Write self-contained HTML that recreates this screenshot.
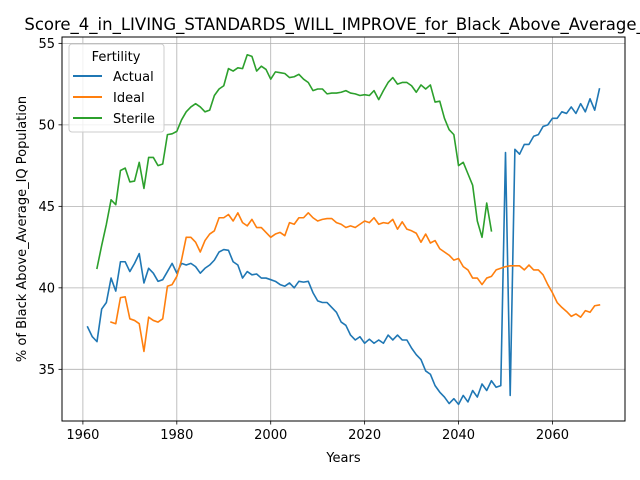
<!DOCTYPE html>
<html><head><meta charset="utf-8"><style>
html,body{margin:0;padding:0;background:#fff;overflow:hidden}
svg{display:block;font-family:"DejaVu Sans","Liberation Sans",sans-serif}
</style></head><body>
<svg id="chart" width="640" height="480" viewBox="0 0 640 480">
<rect x="0" y="0" width="640" height="480" fill="#fff"/>
<g id="grid"></g>
<g id="series"></g>
<rect x="62" y="37" width="563" height="384" fill="none" stroke="#000" stroke-width="1"/>
<g id="ticks"></g>
<text x="343.5" y="30" font-size="16.5" text-anchor="middle">Score_4_in_LIVING_STANDARDS_WILL_IMPROVE_for_Black_Above_Average_IQ</text>
<text x="343.5" y="462" font-size="13" text-anchor="middle">Years</text>
<text transform="translate(26,229) rotate(-90)" font-size="13" text-anchor="middle">% of Black Above_Average_IQ Population</text>
<g>
<rect x="69" y="44" width="95" height="88" rx="3" fill="#fff" fill-opacity="0.8" stroke="#ccc"/>
<text x="116" y="61" font-size="13" text-anchor="middle">Fertility</text>
<line x1="73" y1="76" x2="102" y2="76" stroke="#1f77b4" stroke-width="2"/>
<text x="113" y="81" font-size="13">Actual</text>
<line x1="73" y1="97" x2="102" y2="97" stroke="#ff7f0e" stroke-width="2"/>
<text x="113" y="102" font-size="13">Ideal</text>
<line x1="73" y1="118" x2="102" y2="118" stroke="#2ca02c" stroke-width="2"/>
<text x="113" y="123" font-size="13">Sterile</text>
</g>
</svg>
<script>
const actualStart = 1961;
const actualValues = [37.6,37.0,36.7,38.7,39.1,40.6,39.8,41.6,41.6,41.0,41.5,42.1,40.3,41.2,40.9,40.4,40.5,41.0,41.5,40.9,41.5,41.4,41.5,41.3,40.9,41.2,41.4,41.7,42.2,42.35,42.3,41.6,41.4,40.6,41.0,40.8,40.85,40.6,40.6,40.5,40.4,40.2,40.1,40.3,40.0,40.4,40.35,40.4,39.7,39.2,39.1,39.1,38.8,38.5,37.9,37.7,37.1,36.8,37.0,36.6,36.85,36.6,36.8,36.6,37.1,36.8,37.1,36.8,36.8,36.3,35.9,35.6,34.9,34.7,34.0,33.6,33.3,32.9,33.2,32.85,33.4,33.0,33.7,33.3,34.1,33.7,34.3,33.9,34.0,48.3,33.4,48.5,48.2,48.8,48.8,49.3,49.4,49.9,50.0,50.4,50.4,50.8,50.7,51.1,50.7,51.3,50.8,51.6,50.9,52.2];
const idealStart = 1966;
const idealValues = [37.9,37.8,39.4,39.45,38.1,38.0,37.8,36.1,38.2,38.0,37.9,38.1,40.1,40.2,40.7,41.7,43.1,43.1,42.8,42.2,42.9,43.3,43.5,44.3,44.3,44.5,44.1,44.6,44.0,43.8,44.2,43.7,43.7,43.4,43.1,43.3,43.4,43.2,44.0,43.9,44.3,44.3,44.6,44.3,44.1,44.2,44.25,44.25,44.0,43.9,43.7,43.8,43.7,43.9,44.1,44.0,44.3,43.9,44.0,43.95,44.2,43.6,44.05,43.6,43.5,43.35,42.8,43.3,42.75,42.9,42.4,42.2,42.0,41.7,41.8,41.3,41.1,40.6,40.6,40.2,40.6,40.7,41.1,41.2,41.3,41.35,41.35,41.35,41.1,41.4,41.1,41.1,40.8,40.2,39.7,39.1,38.8,38.55,38.25,38.4,38.2,38.6,38.5,38.9,38.95];
const sterileStart = 1963;
const sterileValues = [41.2,42.6,43.9,45.4,45.1,47.2,47.35,46.5,46.55,47.7,46.1,48.0,48.0,47.5,47.6,49.4,49.45,49.6,50.3,50.8,51.1,51.3,51.1,50.8,50.9,51.8,52.2,52.4,53.45,53.3,53.5,53.45,54.3,54.2,53.3,53.6,53.4,52.8,53.25,53.2,53.15,52.9,52.95,53.1,52.8,52.6,52.1,52.2,52.2,51.9,51.95,51.95,52.0,52.1,51.95,51.9,51.8,51.85,51.8,52.1,51.55,52.1,52.6,52.9,52.5,52.6,52.6,52.4,52.0,52.45,52.2,52.45,51.4,51.45,50.4,49.7,49.4,47.5,47.7,47.0,46.3,44.1,43.1,45.2,43.5];
const xTicks = [1960,1980,2000,2020,2040,2060];
const yTicks = [35,40,45,50,55];

const NS = "http://www.w3.org/2000/svg";
const L=62,R=625,T=37,B=421;
const xMin=1955.55,xMax=2075.45,yMin=31.83,yMax=55.39;
function xs(v){return L+(v-xMin)/(xMax-xMin)*(R-L);}
function ys(v){return B-(v-yMin)/(yMax-yMin)*(B-T);}
function mk(tag,attrs,parent){const e=document.createElementNS(NS,tag);for(const k in attrs)e.setAttribute(k,attrs[k]);parent.appendChild(e);return e;}
const grid=document.getElementById('grid'),ticks=document.getElementById('ticks'),series=document.getElementById('series');
xTicks.forEach(t=>{
  const x=xs(t);
  const g=mk('line',{x1:x,x2:x,y1:T,y2:B,stroke:'#b0b0b0','stroke-width':0.8},grid);
  
  
  const tk=mk('line',{x1:x,x2:x,y1:B,y2:B+3.5,stroke:'#000','stroke-width':0.8},ticks);
  
  
  const tx=mk('text',{x:x,y:B+18,'font-size':13,'text-anchor':'middle'},ticks);
  tx.textContent=t;
  
  
});
yTicks.forEach(t=>{
  const y=ys(t);
  const g=mk('line',{x1:L,x2:R,y1:y,y2:y,stroke:'#b0b0b0','stroke-width':0.8},grid);
  
  
  const tk=mk('line',{x1:L-3.5,x2:L,y1:y,y2:y,stroke:'#000','stroke-width':0.8},ticks);
  
  
  const tx=mk('text',{x:L-7,y:y+4.5,'font-size':13,'text-anchor':'end'},ticks);
  tx.textContent=t;
  
  
});
function drawLine(start,vals,color,name){
  const pts=vals.map((v,i)=>xs(start+i).toFixed(2)+','+ys(v).toFixed(2)).join(' ');
  const p=mk('polyline',{points:pts,fill:'none',stroke:color,'stroke-width':1.6,'stroke-linejoin':'round','stroke-linecap':'square'},series);
  
  
}
drawLine(actualStart,actualValues,'#1f77b4','actual-line');
drawLine(idealStart,idealValues,'#ff7f0e','ideal-line');
drawLine(sterileStart,sterileValues,'#2ca02c','sterile-line');
</script>
</body></html>
